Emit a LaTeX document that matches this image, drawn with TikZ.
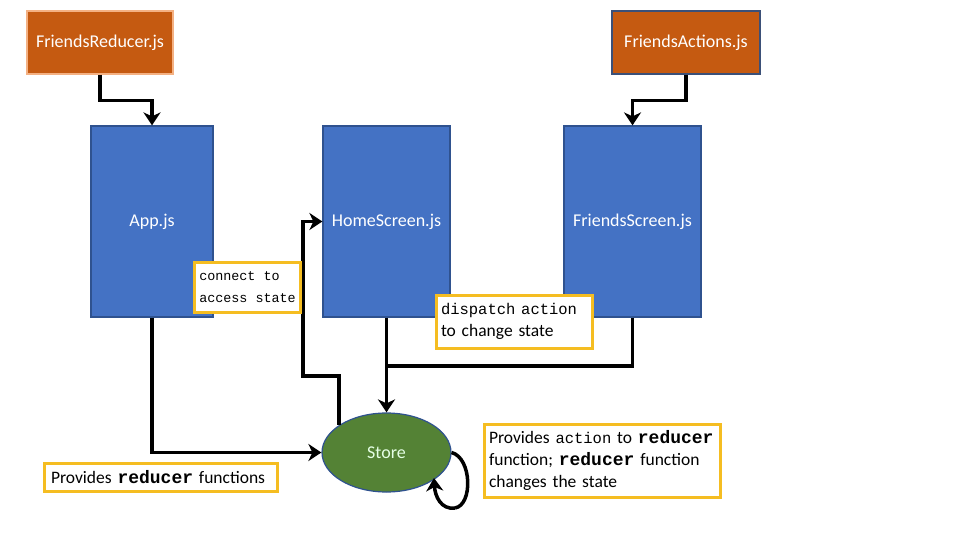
\documentclass[tikz,border=0pt]{standalone}
\usepackage{fontspec}
\setmainfont{Carlito}
\setmonofont{Liberation Mono}
\usetikzlibrary{arrows.meta,shapes.geometric}
\definecolor{orfill}{HTML}{C55A11}
\definecolor{orborder}{HTML}{F4B183}
\definecolor{bluefill}{HTML}{4472C4}
\definecolor{blueborder}{HTML}{2F528F}
\definecolor{darkborder}{HTML}{3B5078}
\definecolor{greenfill}{HTML}{548235}
\definecolor{note}{HTML}{F5BD21}
\newcommand{\cdm}[1]{{\fontsize{15.5}{21}\selectfont\ttfamily #1}}
\newcommand{\cds}[1]{{\fontsize{13.4}{21}\selectfont\ttfamily #1}}
\newcommand{\cdb}[1]{{\fontsize{18}{21}\selectfont\ttfamily\bfseries #1}}
\begin{document}
\begin{tikzpicture}[x=1pt,y=-1pt,
  every node/.style={font=\fontsize{18}{21}\selectfont},
  filebox/.style={rectangle,fill=orfill,text=white,line width=1.5pt,inner sep=0pt},
  compbox/.style={rectangle,fill=bluefill,draw=blueborder,text=white,line width=1.2pt,inner sep=0pt},
  notebox/.style={rectangle,fill=white,draw=note,line width=3pt,align=left,inner xsep=5pt,inner ysep=0pt,font=\fontsize{17.5}{22}\selectfont},
  conn/.style={draw=black,line width=3.5pt},
  arr/.style={conn,-{Stealth[length=13pt,width=17pt,inset=4pt]}}
]
\useasboundingbox (0,0) rectangle (960,540);

% file boxes
\node[filebox,draw=orborder,minimum width=146pt,minimum height=63pt] (fr) at (100,42.5) {FriendsReducer.js};
\node[filebox,draw=darkborder,minimum width=148pt,minimum height=63pt] (fa) at (686,42.5) {FriendsActions.js};

% component boxes
\node[compbox,minimum width=122pt,minimum height=191pt] (app) at (152,221.5) {App.js};
\node[compbox,minimum width=127pt,minimum height=191pt] (home) at (386.5,221.5) {HomeScreen.js};
\node[compbox,minimum width=137pt,minimum height=191pt] (fs) at (632.5,221.5) {FriendsScreen.js};

% store
\node[ellipse,fill=greenfill,draw=blueborder,line width=1.2pt,text=white!90!green,minimum width=129pt,minimum height=79pt,inner sep=0pt] (store) at (386.5,452.5) {Store};

% connectors
\draw[arr] (fr.south) -- ++(0,26) -| (app.north);
\draw[arr] (fa.south) -- ++(0,26) -| (fs.north);
\draw[arr] (app.south) |- (store.west);
\coordinate (j) at (386.5,366);
\draw[conn] (fs.south) |- (j);
\draw[arr] (home.south) -- (store.north);
\coordinate (c1) at (303,376);
\draw[arr] (store.150) |- (c1) |- (home.west);
\coordinate (lp) at (455,508);
\coordinate (le) at (434,478);
\draw[conn] (store.east) .. controls (472,458) and (473,505) .. (lp);
\draw[arr] (lp) .. controls (441,510) and (435,496) .. (le);

% notes
\node[notebox,minimum width=103pt,minimum height=50pt] (n1) at (247.5,287) {\cds{connect to}\\\cds{access state}};
\node[notebox,text width=146pt,minimum height=53pt] (n2) at (514,321.5) {\cdm{dispatch action}\\to change state};
\node[notebox,text width=219pt,inner xsep=7pt,minimum height=28pt] (n3) at (160.5,477) {Provides \cdb{reducer} functions};
\node[notebox,text width=226pt,minimum height=73pt] (n4) at (602,460.5) {Provides \cdm{action} to \cdb{reducer}\\function; \cdb{reducer} function\\changes the state};
\end{tikzpicture}
\end{document}
